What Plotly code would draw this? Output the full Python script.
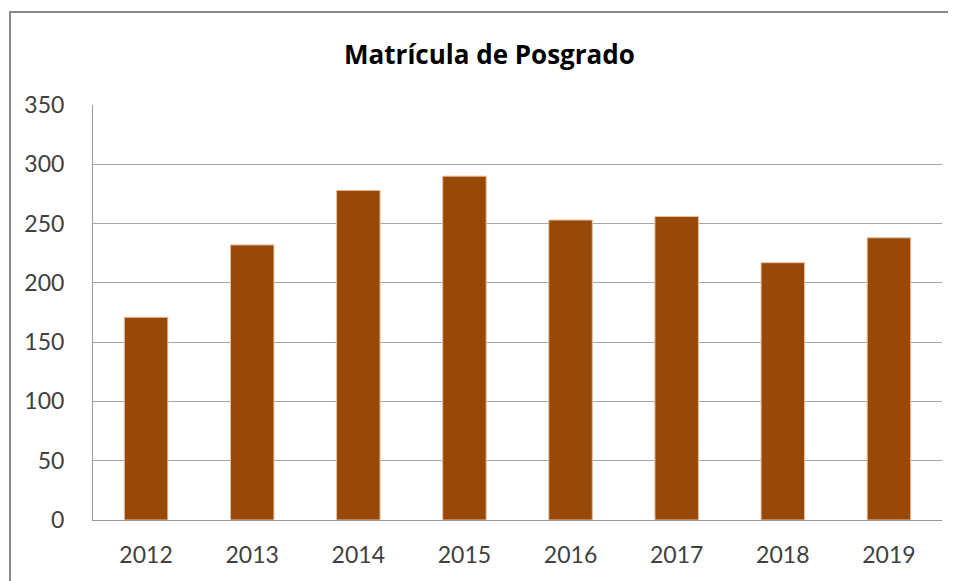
import plotly.graph_objects as go

years = ["2012", "2013", "2014", "2015", "2016", "2017", "2018", "2019"]
matricula = [171, 232, 278, 290, 253, 256, 217, 238]
y_ticks = [0, 50, 100, 150, 200, 250, 300, 350]

# page body has an 8px margin; compensate so the figure lands like the reference
OFF = 8
W, H = 956 - OFF, 581 - OFF
L, R, T, B = 93 - OFF, 14, 105 - OFF, 61
pw, ph = W - L - R, H - T - B

fig = go.Figure(
    go.Bar(
        x=years,
        y=matricula,
        marker=dict(color="#984807", line=dict(color="#e8c0a0", width=1)),
        width=0.41,
    )
)

def px_x(p):
    return (p - OFF - L) / pw

def px_y(p):
    return (H - B - (p - OFF)) / ph

fig.add_shape(
    type="path",
    xref="paper", yref="paper",
    path=f"M {px_x(10)},{px_y(600)} L {px_x(10)},{px_y(12)} L {px_x(970)},{px_y(12)}",
    line=dict(color="#888888", width=2),
)

fig.update_layout(
    width=W, height=H,
    margin=dict(l=L, r=R, t=T, b=B),
    paper_bgcolor="white", plot_bgcolor="white",
    showlegend=False,
    title=dict(
        text="<b>Matrícula de Posgrado</b>",
        x=(489.5 - OFF) / W, xanchor="center",
        y=1 - (55 - OFF) / H, yanchor="middle", yref="container",
        font=dict(family="Open Sans", size=26, color="#000000"),
    ),
    font=dict(family="Lato", size=23, color="#404040"),
    xaxis=dict(
        showline=True, linecolor="#999999", linewidth=1,
        ticks="", showgrid=False, ticklabelstandoff=14,
        tickfont=dict(size=23, color="#404040"),
    ),
    yaxis=dict(
        range=[0, 350], tickvals=y_ticks,
        showline=True, linecolor="#999999", linewidth=1,
        showgrid=True, gridcolor="#a6a6a6", gridwidth=1,
        ticks="", ticklabelstandoff=23,
        tickfont=dict(size=23, color="#404040"),
        zeroline=False,
    ),
)

fig.write_html("out.html")
